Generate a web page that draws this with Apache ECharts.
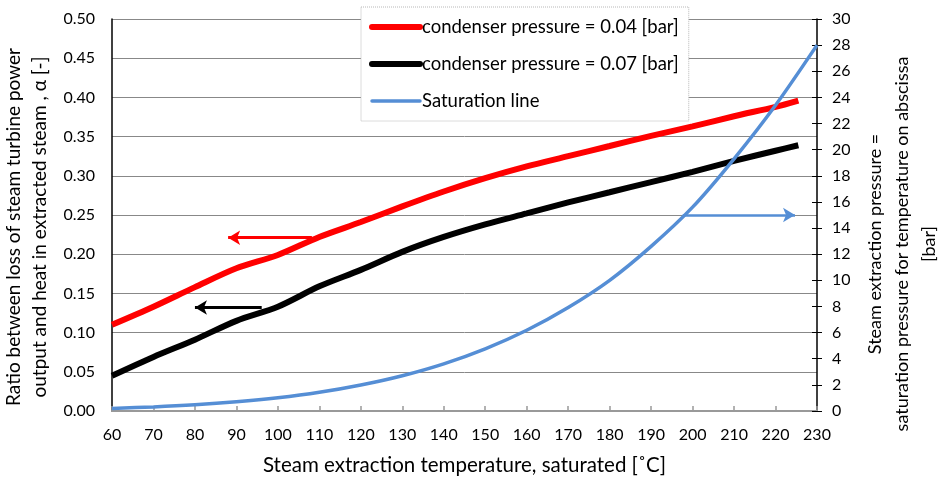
<!DOCTYPE html>
<html>
<head>
<meta charset="utf-8">
<script src="https://cdn.jsdelivr.net/npm/echarts@6/dist/echarts.min.js"></script>
<style>html,body{margin:0;padding:0;background:#fff}#c{width:940px;height:481px}</style>
</head>
<body>
<div id="c"></div>
<script>
// Temperatures [°C]
var tempsA = [60, 70, 80, 90, 100, 110, 120, 130, 140, 150, 160, 170, 180, 190, 200, 210, 220, 225.5];
// condenser pressure = 0.04 bar
var alpha004 = [0.110, 0.133, 0.158, 0.182, 0.199, 0.222, 0.241, 0.261, 0.280, 0.297, 0.312, 0.325, 0.338, 0.351, 0.363, 0.376, 0.388, 0.396];
// condenser pressure = 0.07 bar
var alpha007 = [0.045, 0.069, 0.091, 0.115, 0.133, 0.159, 0.180, 0.203, 0.222, 0.238, 0.252, 0.266, 0.279, 0.292, 0.305, 0.319, 0.332, 0.339];
// Saturation line
var tempsSat = [60, 70, 80, 90, 100, 110, 120, 130, 140, 150, 160, 170, 180, 190, 200, 210, 220, 230];
var pSat = [0.20, 0.31, 0.47, 0.70, 1.01, 1.43, 1.99, 2.70, 3.61, 4.76, 6.18, 7.92, 10.0, 12.6, 15.6, 19.3, 23.4, 28.0];
// arrows: [x1, y1, x2, y2]
var arrowRed = [108.2, 0.221, 88.0, 0.221];
var arrowBlack = [96.1, 0.132, 80.0, 0.132];
var arrowBlue = [197.6, 15, 224.7, 15];

var names = ['condenser pressure = 0.04 [bar]', 'condenser pressure = 0.07 [bar]', 'Saturation line'];
var FONT = 'Lato';

function zip(xs, ys) { return xs.map(function (x, i) { return [x, ys[i]]; }); }
function arrow(a, color, w) {
  return {
    silent: true, symbol: ['none', 'arrow'], symbolSize: [11, 12],
    label: { show: false },
    lineStyle: { color: color, width: w, type: 'solid' },
    emphasis: { disabled: true },
    data: [[{ coord: [a[0], a[1]] }, { coord: [a[2], a[3]] }]]
  };
}

var chart = echarts.init(document.getElementById('c'));
chart.setOption({
  animation: false,
  textStyle: { fontFamily: FONT },
  grid: { left: 112, right: 123, top: 19, bottom: 70, containLabel: false, outerBoundsMode: 'none' },
  legend: {
    orient: 'vertical', left: 361, top: 7,
    itemWidth: 48, itemHeight: 14, itemGap: 17,
    padding: [10, 10, 10, 8],
    backgroundColor: '#fff', borderColor: '#b8b8b8', borderWidth: 1, borderType: 'dotted',
    itemStyle: { opacity: 0 },
    textStyle: { fontFamily: FONT, fontSize: 18.5, color: '#000', lineHeight: 20, padding: [0, 0, 0, -3] },
    data: [
      { name: names[0], lineStyle: { width: 6, color: '#ff0000', cap: 'round' } },
      { name: names[1], lineStyle: { width: 6, color: '#000', cap: 'round' } },
      { name: names[2], lineStyle: { width: 3.5, color: '#558ED5', cap: 'round' } }
    ]
  },
  xAxis: {
    type: 'value', min: 60, max: 230, interval: 10,
    name: 'Steam extraction temperature, saturated [˚C]', nameLocation: 'middle', nameGap: 44,
    nameTextStyle: { fontSize: 20.5, color: '#000', fontFamily: FONT },
    axisLine: { show: true, lineStyle: { color: '#999', width: 2 } },
    axisTick: { show: true, inside: true, length: 5, lineStyle: { color: '#999', width: 1.5 } },
    axisLabel: { fontSize: 16, color: '#000', margin: 16, fontFamily: FONT },
    splitLine: { show: false }
  },
  yAxis: [{
    type: 'value', min: 0, max: 0.5, interval: 0.05, position: 'left',
    name: 'Ratio between loss of steam turbine power\noutput and heat in extracted steam , α [-]',
    nameLocation: 'middle', nameGap: 49, nameRotate: 90,
    nameTextStyle: { fontSize: 19, color: '#000', lineHeight: 26, fontFamily: FONT, padding: [0, 24, 0, 0] },
    axisLine: { show: true, lineStyle: { color: '#000', width: 1.5 } },
    axisTick: { show: false },
    axisLabel: { fontSize: 16, color: '#000', margin: 17, fontFamily: FONT, formatter: function (v) { return v.toFixed(2); } },
    splitLine: { show: true, lineStyle: { color: '#888', width: 1 } }
  }, {
    type: 'value', min: 0, max: 30, interval: 2, position: 'right',
    name: 'Steam extraction pressure =\nsaturation pressure for temperature on abscissa\n[bar]',
    nameLocation: 'middle', nameGap: 38, nameRotate: 90,
    nameTextStyle: { fontSize: 18, color: '#000', lineHeight: 27, fontFamily: FONT, padding: [0, 58, 0, 0] },
    axisLine: { show: true, lineStyle: { color: '#000', width: 1.5 } },
    axisTick: { show: true, inside: false, length: 5, lineStyle: { color: '#000' } },
    axisLabel: { fontSize: 16, color: '#000', margin: 15, fontFamily: FONT },
    splitLine: { show: false }
  }, {
    type: 'value', min: 0, max: 30, interval: 2, position: 'right',
    axisLine: { show: false },
    axisTick: { show: true, inside: true, length: 5, lineStyle: { color: '#000' } },
    axisLabel: { show: false },
    splitLine: { show: false }
  }],
  series: [{
    name: names[0], type: 'line', yAxisIndex: 0, symbol: 'none', smooth: 0.3,
    lineStyle: { color: '#ff0000', width: 6 }, itemStyle: { color: '#ff0000' },
    data: zip(tempsA, alpha004), z: 3,
    markLine: arrow(arrowRed, '#ff0000', 3)
  }, {
    name: names[1], type: 'line', yAxisIndex: 0, symbol: 'none', smooth: 0.3,
    lineStyle: { color: '#000', width: 6 }, itemStyle: { color: '#000' },
    data: zip(tempsA, alpha007), z: 3,
    markLine: arrow(arrowBlack, '#000', 3)
  }, {
    name: names[2], type: 'line', yAxisIndex: 1, symbol: 'none', smooth: 0.3,
    lineStyle: { color: '#558ED5', width: 3.5 }, itemStyle: { color: '#558ED5' },
    data: zip(tempsSat, pSat), z: 3,
    markLine: arrow(arrowBlue, '#558ED5', 2.5)
  }]
});
</script>
</body>
</html>
